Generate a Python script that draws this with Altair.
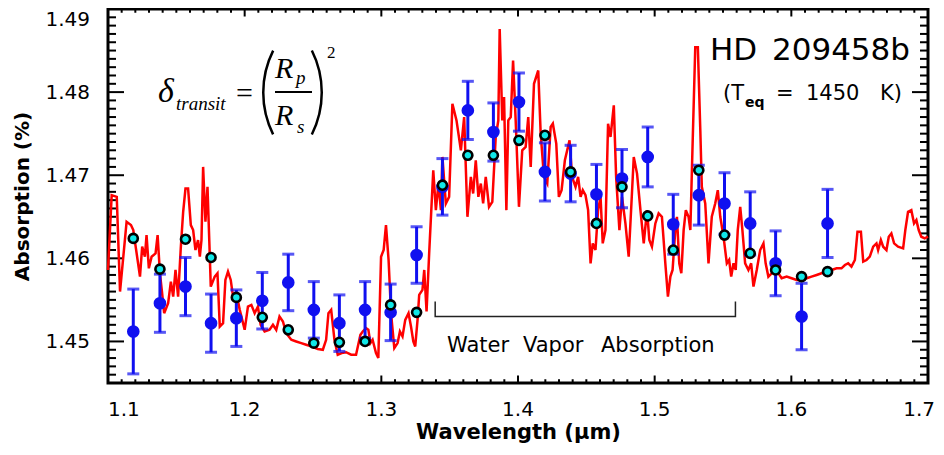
import altair as alt
import pandas as pd

# ---------------- data ----------------
model_wl = [
    1.1000, 1.1027, 1.1064, 1.1088, 1.1136, 1.1168, 1.1185, 1.1234, 1.1250, 1.1270,
    1.1282, 1.1299, 1.1319, 1.1348, 1.1363, 1.1380, 1.1396, 1.1411, 1.1440, 1.1460,
    1.1477, 1.1494, 1.1513, 1.1533, 1.1550, 1.1567, 1.1586, 1.1606, 1.1623, 1.1640,
    1.1659, 1.1672, 1.1684, 1.1696, 1.1713, 1.1728, 1.1745, 1.1752, 1.1781, 1.1801,
    1.1818, 1.1842, 1.1859, 1.1878, 1.1898, 1.1915, 1.1939, 1.1964, 1.2000, 1.2024,
    1.2049, 1.2073, 1.2097, 1.2117, 1.2146, 1.2182, 1.2207, 1.2231, 1.2255, 1.2280,
    1.2304, 1.2341, 1.2377, 1.2414, 1.2450, 1.2487, 1.2535, 1.2572, 1.2596, 1.2613,
    1.2633, 1.2657, 1.2681, 1.2710, 1.2742, 1.2779, 1.2815, 1.2847, 1.2864, 1.2888,
    1.2905, 1.2920, 1.2936, 1.2961, 1.2978, 1.2998, 1.3017, 1.3034, 1.3053, 1.3071,
    1.3095, 1.3119, 1.3136, 1.3155, 1.3175, 1.3199, 1.3217, 1.3234, 1.3248, 1.3265,
    1.3277, 1.3301, 1.3314, 1.3331, 1.3350, 1.3380, 1.3399, 1.3418, 1.3436, 1.3447,
    1.3472, 1.3496, 1.3520, 1.3550, 1.3582, 1.3606, 1.3630, 1.3655, 1.3672, 1.3691,
    1.3710, 1.3728, 1.3745, 1.3764, 1.3788, 1.3812, 1.3837, 1.3856, 1.3866, 1.3885,
    1.3898, 1.3915, 1.3929, 1.3947, 1.3964, 1.3983, 1.4007, 1.4031, 1.4056, 1.4075,
    1.4093, 1.4117, 1.4148, 1.4166, 1.4190, 1.4214, 1.4239, 1.4255, 1.4280, 1.4299,
    1.4319, 1.4343, 1.4360, 1.4377, 1.4396, 1.4421, 1.4440, 1.4458, 1.4474, 1.4494,
    1.4513, 1.4531, 1.4547, 1.4567, 1.4586, 1.4604, 1.4620, 1.4640, 1.4659, 1.4677,
    1.4701, 1.4718, 1.4742, 1.4761, 1.4786, 1.4810, 1.4830, 1.4847, 1.4871, 1.4896,
    1.4920, 1.4944, 1.4961, 1.4980, 1.5005, 1.5029, 1.5053, 1.5078, 1.5097, 1.5115,
    1.5131, 1.5151, 1.5163, 1.5180, 1.5195, 1.5212, 1.5228, 1.5248, 1.5261, 1.5277,
    1.5297, 1.5316, 1.5334, 1.5345, 1.5370, 1.5394, 1.5418, 1.5443, 1.5462, 1.5480,
    1.5504, 1.5528, 1.5545, 1.5560, 1.5577, 1.5593, 1.5608, 1.5626, 1.5642, 1.5662,
    1.5686, 1.5706, 1.5723, 1.5747, 1.5772, 1.5796, 1.5812, 1.5832, 1.5856, 1.5881,
    1.5905, 1.5929, 1.5966, 1.6002, 1.6039, 1.6075, 1.6112, 1.6148, 1.6185, 1.6221,
    1.6258, 1.6294, 1.6331, 1.6367, 1.6392, 1.6416, 1.6440, 1.6465, 1.6484, 1.6509,
    1.6526, 1.6550, 1.6574, 1.6599, 1.6623, 1.6635, 1.6655, 1.6672, 1.6696, 1.6713,
    1.6732, 1.6752, 1.6781, 1.6818, 1.6834, 1.6854, 1.6878, 1.6898, 1.6915, 1.6932,
    1.6951, 1.6976, 1.7000,
]
model_abs = [
    1.4586, 1.4676, 1.4674, 1.4560, 1.4644, 1.4640, 1.4634, 1.4578, 1.4614, 1.4602,
    1.4628, 1.4588, 1.4602, 1.4606, 1.4628, 1.4582, 1.4558, 1.4534, 1.4546, 1.4572,
    1.4554, 1.4586, 1.4554, 1.4614, 1.4656, 1.4684, 1.4684, 1.4640, 1.4634, 1.4610,
    1.4622, 1.4602, 1.4622, 1.4710, 1.4644, 1.4686, 1.4602, 1.4566, 1.4578, 1.4582,
    1.4518, 1.4522, 1.4574, 1.4584, 1.4574, 1.4554, 1.4558, 1.4538, 1.4514, 1.4542,
    1.4544, 1.4534, 1.4542, 1.4520, 1.4512, 1.4514, 1.4520, 1.4514, 1.4530, 1.4524,
    1.4510, 1.4502, 1.4500, 1.4498, 1.4496, 1.4494, 1.4491, 1.4490, 1.4502, 1.4534,
    1.4538, 1.4502, 1.4484, 1.4486, 1.4487, 1.4484, 1.4484, 1.4508, 1.4512, 1.4516,
    1.4514, 1.4498, 1.4502, 1.4486, 1.4480, 1.4602, 1.4610, 1.4640, 1.4598, 1.4534,
    1.4492, 1.4498, 1.4512, 1.4506, 1.4526, 1.4534, 1.4518, 1.4500, 1.4494, 1.4526,
    1.4556, 1.4562, 1.4586, 1.4536, 1.4606, 1.4706, 1.4658, 1.4690, 1.4658, 1.4722,
    1.4666, 1.4674, 1.4786, 1.4766, 1.4730, 1.4770, 1.4650, 1.4698, 1.4678, 1.4718,
    1.4674, 1.4690, 1.4666, 1.4698, 1.4662, 1.4668, 1.4746, 1.4766, 1.4876, 1.4766,
    1.4794, 1.4658, 1.4766, 1.4770, 1.4838, 1.4766, 1.4662, 1.4730, 1.4734, 1.4770,
    1.4710, 1.4810, 1.4826, 1.4750, 1.4698, 1.4690, 1.4758, 1.4762, 1.4738, 1.4674,
    1.4682, 1.4718, 1.4730, 1.4742, 1.4698, 1.4686, 1.4698, 1.4674, 1.4682, 1.4676,
    1.4658, 1.4594, 1.4618, 1.4610, 1.4658, 1.4674, 1.4618, 1.4634, 1.4762, 1.4746,
    1.4784, 1.4698, 1.4634, 1.4674, 1.4642, 1.4602, 1.4666, 1.4722, 1.4702, 1.4658,
    1.4618, 1.4658, 1.4622, 1.4614, 1.4642, 1.4654, 1.4650, 1.4594, 1.4554, 1.4578,
    1.4586, 1.4634, 1.4650, 1.4594, 1.4582, 1.4634, 1.4658, 1.4650, 1.4634, 1.4734,
    1.4854, 1.4854, 1.4754, 1.4686, 1.4666, 1.4594, 1.4650, 1.4666, 1.4682, 1.4650,
    1.4626, 1.4594, 1.4598, 1.4578, 1.4594, 1.4586, 1.4634, 1.4662, 1.4634, 1.4594,
    1.4586, 1.4594, 1.4566, 1.4586, 1.4610, 1.4618, 1.4594, 1.4578, 1.4582, 1.4594,
    1.4582, 1.4576, 1.4578, 1.4576, 1.4574, 1.4574, 1.4576, 1.4578, 1.4580, 1.4582,
    1.4584, 1.4586, 1.4588, 1.4588, 1.4592, 1.4594, 1.4590, 1.4598, 1.4632, 1.4632,
    1.4596, 1.4598, 1.4602, 1.4614, 1.4618, 1.4610, 1.4622, 1.4614, 1.4610, 1.4626,
    1.4630, 1.4618, 1.4614, 1.4612, 1.4634, 1.4656, 1.4658, 1.4642, 1.4646, 1.4634,
    1.4626, 1.4624, 1.4626,
]

bin_wl = [1.1185, 1.1380, 1.1567, 1.1754, 1.1939, 1.2129, 1.2319, 1.2506, 1.2693, 1.2881,
          1.3068, 1.3258, 1.3447, 1.3633, 1.3820, 1.4007, 1.4197, 1.4385, 1.4574, 1.4761,
          1.4949, 1.5136, 1.5323, 1.5511, 1.5699, 1.5885, 1.6075, 1.6265]
obs_abs = [1.4512, 1.4546, 1.4566, 1.4522, 1.4528, 1.4549, 1.4571, 1.4538, 1.4522, 1.4538,
           1.4535, 1.4604, 1.4686, 1.4778, 1.4752, 1.4788, 1.4704, 1.4702, 1.4677, 1.4696,
           1.4722, 1.4641, 1.4676, 1.4666, 1.4642, 1.4594, 1.4530, 1.4642]
obs_err = [0.0051, 0.0035, 0.0035, 0.0035, 0.0034, 0.0034, 0.0034, 0.0034, 0.0034, 0.0034,
           0.0034, 0.0034, 0.0034, 0.0035, 0.0035, 0.0035, 0.0035, 0.0034, 0.0036, 0.0035,
           0.0036, 0.0036, 0.0036, 0.0037, 0.0038, 0.0039, 0.0040, 0.0041]
model_binned = [1.4624, 1.4587, 1.4623, 1.4601, 1.4553, 1.4529, 1.4514, 1.4498, 1.4499, 1.4500,
                1.4544, 1.4535, 1.4688, 1.4724, 1.4724, 1.4742, 1.4748, 1.4704, 1.4642, 1.4686,
                1.4651, 1.4610, 1.4706, 1.4628, 1.4606, 1.4586, 1.4578, 1.4584]

bracket_wl = [1.3394, 1.3394, 1.5591, 1.5591]
bracket_abs = [1.4548, 1.4530, 1.4530, 1.4548]

x_ticks = [1.1, 1.2, 1.3, 1.4, 1.5, 1.6, 1.7]
y_ticks = [1.45, 1.46, 1.47, 1.48, 1.49]
x_tick_labels = ["1.1", "1.2", "1.3", "1.4", "1.5", "1.6", "1.7"]
y_tick_labels = ["1.45", "1.46", "1.47", "1.48", "1.49"]
x_minor = [round(1.1 + 0.01 * i, 2) for i in range(1, 60) if i % 10]
y_minor = [round(1.445 + 0.001 * i, 3) for i in range(1, 45) if (i + 5) % 10]

# ---------------- styling ----------------
W, H = 820, 374
RED, BLUE, CYAN = "#ff0000", "#1010f0", "#10e8e8"
SANS, SERIF = "DejaVu Sans", "Liberation Serif"

xs = alt.Scale(domain=[1.1, 1.7], nice=False, zero=False)
ys = alt.Scale(domain=[1.445, 1.49], nice=False, zero=False)

x_axis = alt.Axis(values=x_ticks, ticks=False, domain=False, grid=False, labels=False,
                  title="Wavelength (μm)", titleFont=SANS, titleFontSize=21,
                  titleFontWeight="bold", titleColor="black", titlePadding=38)
y_axis = alt.Axis(values=y_ticks, ticks=False, domain=False, grid=False, labels=False,
                  title="Absorption (%)", titleFont=SANS, titleFontSize=20,
                  titleFontWeight="bold", titleColor="black", titlePadding=76)


def X(field):
    return alt.X(field, type="quantitative", scale=xs, axis=x_axis)


def Y(field):
    return alt.Y(field, type="quantitative", scale=ys, axis=y_axis)


layers = []

# inward ticks on all four sides
for vals, ln in ((x_ticks, 7.5), (x_minor, 3.75)):
    df = pd.DataFrame({"t": vals})
    layers.append(alt.Chart(df).mark_rule(color="black", strokeWidth=2).encode(
        x=X("t"), y=alt.value(H), y2=alt.value(H - ln)))
    layers.append(alt.Chart(df).mark_rule(color="black", strokeWidth=2).encode(
        x=X("t"), y=alt.value(0), y2=alt.value(ln)))
for vals, ln in ((y_ticks, 16), (y_minor, 8)):
    df = pd.DataFrame({"t": vals})
    layers.append(alt.Chart(df).mark_rule(color="black", strokeWidth=2).encode(
        y=Y("t"), x=alt.value(0), x2=alt.value(ln)))
    layers.append(alt.Chart(df).mark_rule(color="black", strokeWidth=2).encode(
        y=Y("t"), x=alt.value(W), x2=alt.value(W - ln)))

# tick labels (first x label flush with the left edge, last one kept inside the page)
xl = pd.DataFrame({"t": x_ticks, "s": x_tick_labels})
yl = pd.DataFrame({"t": y_ticks, "s": y_tick_labels})
lab = dict(font=SANS, fontSize=20, color="black")
layers.append(alt.Chart(xl.iloc[:1]).mark_text(align="left", baseline="alphabetic", **lab).encode(
    x=X("t"), y=alt.value(H + 33), text="s:N"))
layers.append(alt.Chart(xl.iloc[1:-1]).mark_text(align="center", baseline="alphabetic", **lab).encode(
    x=X("t"), y=alt.value(H + 33), text="s:N"))
layers.append(alt.Chart(xl.iloc[-1:]).mark_text(align="right", baseline="alphabetic", dx=7, **lab).encode(
    x=X("t"), y=alt.value(H + 33), text="s:N"))
layers.append(alt.Chart(yl.iloc[:-1]).mark_text(align="right", baseline="middle", dy=1, **lab).encode(
    y=Y("t"), x=alt.value(-18), text="s:N"))
layers.append(alt.Chart(yl.iloc[-1:]).mark_text(align="right", baseline="middle", dy=11, **lab).encode(
    y=Y("t"), x=alt.value(-18), text="s:N"))

# model spectrum
model_df = pd.DataFrame({"wl": model_wl, "a": model_abs, "i": range(len(model_wl))})
layers.append(alt.Chart(model_df).mark_line(color=RED, strokeWidth=2.5).encode(
    x=X("wl"), y=Y("a"), order="i:Q"))

# water vapour bracket
br_df = pd.DataFrame({"wl": bracket_wl, "a": bracket_abs, "i": [0, 1, 2, 3]})
layers.append(alt.Chart(br_df).mark_line(color="#222222", strokeWidth=1.5).encode(
    x=X("wl"), y=Y("a"), order="i:Q"))

# observations with error bars
obs_df = pd.DataFrame({"wl": bin_wl, "a": obs_abs, "err": obs_err, "m": model_binned})
base = alt.Chart(obs_df).transform_calculate(lo="datum.a - datum.err", hi="datum.a + datum.err")
layers.append(base.mark_rule(color=BLUE, strokeWidth=3).encode(x=X("wl"), y=Y("lo"), y2="hi:Q"))
layers.append(base.mark_tick(color=BLUE, orient="horizontal", size=12, thickness=3).encode(
    x=X("wl"), y=Y("lo")))
layers.append(base.mark_tick(color=BLUE, orient="horizontal", size=12, thickness=3).encode(
    x=X("wl"), y=Y("hi")))
layers.append(alt.Chart(obs_df).mark_circle(color=BLUE, size=160, opacity=1).encode(
    x=X("wl"), y=Y("a")))
layers.append(alt.Chart(obs_df).mark_circle(fill=CYAN, stroke="black", strokeWidth=2.6,
                                            size=82, opacity=1).encode(x=X("wl"), y=Y("m")))


def text(txt, x, y, size, font=SANS, style="normal", weight="normal", align="left"):
    return alt.Chart(pd.DataFrame({"t": [txt]})).mark_text(
        font=font, fontSize=size, fontStyle=style, fontWeight=weight, align=align,
        baseline="alphabetic", color="black").encode(text="t:N", x=alt.value(x), y=alt.value(y))


one = pd.DataFrame({"k": [0]})

# formula  delta_transit = (Rp/Rs)^2
layers += [
    text("δ", 50, 93, 34, SERIF, "italic"),
    text("transit", 68, 101, 19, SERIF, "italic"),
    text("=", 136.5, 94, 30, SERIF, align="center"),
    text("R", 167, 69, 30, SERIF, "italic"),
    text("p", 188, 75, 19, SERIF, "italic"),
    text("R", 167, 116, 30, SERIF, "italic"),
    text("s", 189, 124, 19, SERIF, "italic"),
    text("2", 219, 49, 17, SERIF),
    alt.Chart(one).mark_rule(color="black", strokeWidth=2).encode(
        x=alt.value(167), x2=alt.value(204), y=alt.value(83)),
    alt.Chart(one).mark_arc(radius=95, radius2=92.5, theta=4.25, theta2=5.176, color="black").encode(
        x=alt.value(249), y=alt.value(83.5)),
    alt.Chart(one).mark_arc(radius=95, radius2=92.5, theta=1.107, theta2=2.035, color="black").encode(
        x=alt.value(120), y=alt.value(83.5)),
]

# planet labels
layers += [
    text("HD", 602, 51, 31),
    text("209458b", 802, 51, 31, align="right"),
    text("(T", 615, 91, 21),
    text("eq", 637, 98, 14, weight="bold"),
    text("=", 668, 91, 21),
    text("1450", 698, 91, 21),
    text("K)", 794, 91, 21, align="right"),
    text("Water", 339, 343, 21),
    text("Vapor", 415, 343, 21),
    text("Absorption", 493, 343, 21),
]

chart = alt.layer(*layers).properties(
    width=W, height=H,
    autosize=alt.AutoSizeParams(type="none"),
    padding={"left": 100, "top": 1, "right": 8, "bottom": 63},
    background="white",
).configure_view(stroke="black", strokeWidth=3)

chart.save("out.html", embed_options={"renderer": "svg", "actions": False})
